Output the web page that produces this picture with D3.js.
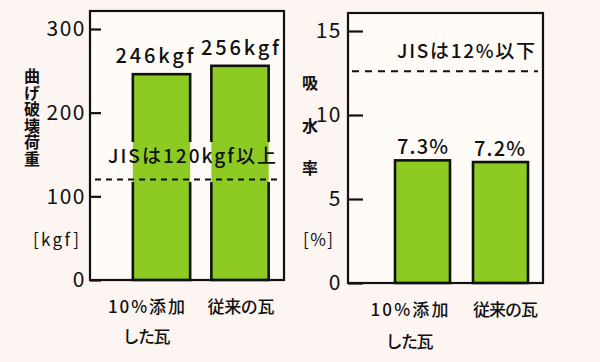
<!DOCTYPE html>
<html><head><meta charset="utf-8">
<script src="https://cdn.jsdelivr.net/npm/d3@7"></script>
<style>
html,body{margin:0;padding:0;background:#fdf5f1;}
svg{display:block;}
text{font-family:"Noto Sans CJK JP","Noto Sans",sans-serif;fill:#111;}
</style></head><body>
<svg id="chart" width="600" height="362"></svg>
<script>
// ---- data ----
const categories = ["10%添加した瓦", "従来の瓦"];
const categoryLines = [["10%添加", "した瓦"], ["従来の瓦"]];
const strengthValues = [246, 256];
const strengthLabels = ["246kgf", "256kgf"];
const strengthTicks = [0, 100, 200, 300];
const strengthTitle = "曲げ破壊荷重";
const strengthUnit = "[kgf]";
const strengthStandard = 120;
const strengthStandardLabel = "JISは120kgf以上";

const absorptionValues = [7.3, 7.2];
const absorptionLabels = ["7.3%", "7.2%"];
const absorptionTicks = [0, 5, 10, 15];
const absorptionTitle = ["吸","水","率"];
const absorptionUnit = "[%]";
const absorptionStandard = 12.6;
const absorptionStandardLabel = "JISは12%以下";

const svg = d3.select("#chart");
const GREEN = "#8dcb23";

function panel(cfg) {
  const g = svg.append("g");
  const y = d3.scaleLinear().domain(cfg.domain).range([cfg.bottom, cfg.yTop]);
  const x = d3.scaleBand().domain(categories).range(cfg.xRange)
    .paddingInner(cfg.padIn).paddingOuter(cfg.padIn / 2);

  g.append("rect").attr("x", cfg.left).attr("y", cfg.top)
    .attr("width", cfg.right - cfg.left).attr("height", cfg.bottom - cfg.top)
    .attr("fill", "#fffcf8");

  g.selectAll("rect.bar").data(cfg.values).join("rect").attr("class", "bar")
    .attr("x", (d, i) => x(categories[i])).attr("width", x.bandwidth())
    .attr("y", d => y(d)).attr("height", d => y(0) - y(d))
    .attr("fill", GREEN);

  let outline = g.append("g");
  if (cfg.gap) {
    const id = "clip" + cfg.left;
    const cp = svg.append("defs").append("clipPath").attr("id", id);
    cp.append("rect").attr("x", 0).attr("y", 0).attr("width", 600).attr("height", cfg.gap[0]);
    cp.append("rect").attr("x", 0).attr("y", cfg.gap[1]).attr("width", 600).attr("height", 362 - cfg.gap[1]);
    outline.attr("clip-path", `url(#${id})`);
  }
  outline.selectAll("rect").data(cfg.values).join("rect")
    .attr("x", (d, i) => x(categories[i])).attr("width", x.bandwidth())
    .attr("y", d => y(d)).attr("height", d => y(0) - y(d))
    .attr("fill", "none").attr("stroke", "#111").attr("stroke-width", 2.6);

  g.append("rect").attr("x", cfg.left).attr("y", cfg.top)
    .attr("width", cfg.right - cfg.left).attr("height", cfg.bottom - cfg.top)
    .attr("fill", "none").attr("stroke", "#111").attr("stroke-width", 2.2);

  const ax = g.append("g").attr("transform", `translate(${cfg.left},0)`)
    .call(d3.axisLeft(y).tickValues(cfg.ticks).tickSize(-cfg.tickLen).tickPadding(cfg.tickPad));
  ax.select(".domain").remove();
  ax.selectAll(".tick line").attr("stroke", "#111").attr("stroke-width", 2.2);
  ax.selectAll(".tick text").attr("font-size", cfg.tickFont).attr("fill", "#111")
    .attr("letter-spacing", cfg.tickSpacing)
    .style("font-family", "'Noto Sans CJK JP','Noto Sans',sans-serif").style("font-weight", 400);

  g.append("line").attr("x1", cfg.dashX[0]).attr("x2", cfg.dashX[1])
    .attr("y1", y(cfg.standard)).attr("y2", y(cfg.standard))
    .attr("stroke", "#111").attr("stroke-width", 2).attr("stroke-dasharray", cfg.dash);
  g.append("text").attr("x", cfg.stdLabelPos[0]).attr("y", cfg.stdLabelPos[1])
    .attr("font-size", 19).attr("font-weight", 500)
    .attr("textLength", cfg.stdLabelLen).attr("lengthAdjust", "spacing")
    .text(cfg.standardLabel);

  g.selectAll("text.val").data(cfg.labels).join("text").attr("class", "val")
    .attr("x", (d, i) => x(categories[i]) + x.bandwidth() / 2 + cfg.valDx[i])
    .attr("y", (d, i) => y(cfg.values[i]) - cfg.valDy)
    .attr("text-anchor", "middle").attr("font-size", 20).attr("font-weight", 500)
    .attr("textLength", cfg.valLen).attr("lengthAdjust", "spacing")
    .text(d => d);

  categoryLines.forEach((lines, i) => {
    lines.forEach((ln, j) => {
      g.append("text")
        .attr("x", x(categories[i]) + x.bandwidth() / 2 + cfg.catDx[i])
        .attr("y", cfg.catY[j]).attr("text-anchor", "middle")
        .attr("font-size", 17).attr("font-weight", 500)
        .attr("textLength", ln.length === 3 ? 48 : cfg.catLen[i]).attr("lengthAdjust", "spacing")
        .text(ln);
    });
  });

  if (typeof cfg.title === "string") {
    g.append("text").attr("x", cfg.titleX).attr("y", cfg.titleY0)
      .style("writing-mode", "vertical-rl")
      .attr("font-size", 16).attr("font-weight", 700)
      .attr("textLength", cfg.titleLen).attr("lengthAdjust", "spacing")
      .text(cfg.title);
  } else {
    cfg.title.forEach((c, i) => {
      g.append("text").attr("x", cfg.titleX).attr("y", cfg.titleY0 + i * cfg.titleStep)
        .attr("text-anchor", "middle").attr("font-size", 16).attr("font-weight", 700)
        .attr("dominant-baseline", "central").text(c);
    });
  }
  g.append("text").attr("x", cfg.unitX).attr("y", 246).attr("text-anchor", "middle")
    .attr("font-size", 17).attr("font-weight", 400).attr("textLength", cfg.unitLen)
    .attr("lengthAdjust", "spacing").text(cfg.unit);
}

panel({
  domain: [0, 300], ticks: strengthTicks, values: strengthValues, labels: strengthLabels,
  left: 90, right: 284, top: 11, bottom: 280, yTop: 29,
  xRange: [122.25, 279.25], padIn: 0.27,
  tickLen: 11, tickPad: 4, tickFont: 21, tickSpacing: 1.5,
  gap: [142, 182],
  standard: strengthStandard, standardLabel: strengthStandardLabel,
  dashX: [95, 278], dash: "6,5", stdLabelPos: [108, 163], stdLabelLen: 168,
  valDx: [-7, 0], valDy: 11, valLen: 78,
  catDx: [-15, 1], catY: [313, 343], catLen: [77, 67],
  title: strengthTitle, titleX: 32, titleY0: 68, titleLen: 99,
  unit: strengthUnit, unitX: 56, unitLen: 46
});

panel({
  domain: [0, 15], ticks: absorptionTicks, values: absorptionValues, labels: absorptionLabels,
  left: 348, right: 543, top: 13, bottom: 283, yTop: 31,
  xRange: [383.5, 539.5], padIn: 0.295,
  tickLen: 15, tickPad: 6, tickFont: 21, tickSpacing: 1.5,
  gap: null,
  standard: absorptionStandard, standardLabel: absorptionStandardLabel,
  dashX: [352, 538], dash: "7,6", stdLabelPos: [397, 58], stdLabelLen: 138,
  valDx: [0, -1], valDy: 6, valLen: 51,
  catDx: [-13, 5], catY: [316, 348], catLen: [78, 65],
  title: absorptionTitle, titleX: 310, titleY0: 82, titleStep: 42.5,
  unit: absorptionUnit, unitX: 318, unitLen: 30
});
</script>
</body></html>
